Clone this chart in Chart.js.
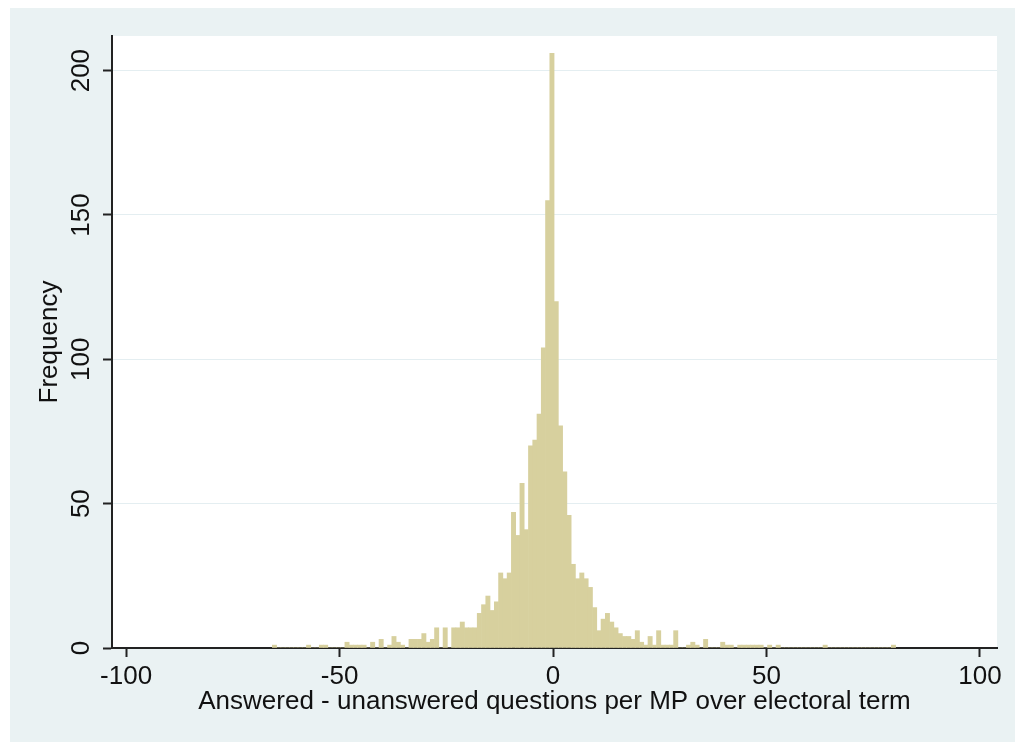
<!DOCTYPE html>
<html><head><meta charset="utf-8">
<script src="https://cdn.jsdelivr.net/npm/chart.js@4.4.1/dist/chart.umd.min.js"></script>
<style>html,body{margin:0;padding:0;background:#fff;} #wrap{width:1018px;height:742px;position:relative;}</style>
</head><body><div id="wrap"><canvas id="c"></canvas></div>
<script>
// Histogram bins: first bin centre and bin width (units of the x variable)
const binStart = -65.25;
const binWidth = 1;
// Frequencies per bin, from the bin centred at -65.25 up to the bin centred at 79.75
const frequencies = [
  1,0,0,0,0,0,0,0,1,0,
  0,1,1,0,0,0,0,2,1,1,
  1,1,0,2,0,3,0,1,4,2,
  1,0,3,3,3,5,2,3,7,0,
  7,0,7,7,9,7,7,7,12,15,
  18,13,16,26,24,26,47,39,57,41,
  70,72,81,104,155,206,120,77,61,46,
  29,24,26,24,21,14,6,10,12,9,
  7,5,4,4,3,6,2,1,4,1,
  6,1,1,1,6,0,0,1,2,1,
  0,3,0,0,0,2,1,1,0,1,
  1,1,1,1,1,0,1,0,1,0,
  0,0,0,0,0,0,0,0,0,1,
  0,0,0,0,0,0,0,0,0,0,
  0,0,0,0,0,1
];
const xTickValues = [-100, -50, 0, 50, 100];
const yTickValues = [0, 50, 100, 150, 200];
const xAxisTitle = 'Answered - unanswered questions per MP over electoral term';
const yAxisTitle = 'Frequency';

const FONT = '"Liberation Sans", Arial, sans-serif';
const TEXT = '#111111';

const bgPlugin = {
  id: 'bg',
  beforeDraw(chart) {
    const ctx = chart.ctx, a = chart.chartArea;
    ctx.save();
    ctx.fillStyle = '#ffffff';
    ctx.fillRect(0, 0, chart.width, chart.height);
    ctx.fillStyle = '#eaf2f3';
    ctx.fillRect(10, 8, chart.width - 13, chart.height - 8);
    ctx.fillStyle = '#ffffff';
    ctx.fillRect(a.left, a.top, a.right - a.left, a.bottom - a.top);
    ctx.restore();
  }
};

const yLabelPlugin = {
  id: 'ylabels',
  afterDraw(chart) {
    const ys = chart.scales.y, ctx = chart.ctx;
    ctx.save();
    ctx.font = '26px ' + FONT;
    ctx.fillStyle = TEXT;
    ctx.textAlign = 'center';
    ctx.textBaseline = 'alphabetic';
    yTickValues.forEach(v => {
      const py = ys.getPixelForValue(v);
      ctx.save();
      ctx.translate(ys.right - 23, py);
      ctx.rotate(-Math.PI / 2);
      ctx.fillText(String(v), 0, 0);
      ctx.restore();
    });
    ctx.restore();
  }
};

new Chart(document.getElementById('c'), {
  type: 'bar',
  data: {
    datasets: [{
      data: frequencies.map((f, i) => ({ x: binStart + i * binWidth, y: f })),
      backgroundColor: '#d7d09e',
      borderWidth: 0,
      barPercentage: 1,
      categoryPercentage: 1
    }]
  },
  options: {
    responsive: true,
    maintainAspectRatio: false,
    animation: false,
    layout: { padding: { left: 0, top: 36, right: 21, bottom: 0 } },
    plugins: { legend: { display: false }, tooltip: { enabled: false } },
    scales: {
      x: {
        type: 'linear', min: -103.3, max: 104, offset: false,
        afterBuildTicks: s => { s.ticks = xTickValues.map(v => ({ value: v })); },
        afterFit: s => { s.height = 94; },
        grid: { offset: false, drawOnChartArea: false, drawTicks: true, tickLength: 9, tickColor: '#222', tickWidth: 2 },
        border: { display: true, color: '#222', width: 2 },
        ticks: { font: { family: FONT, size: 26 }, color: TEXT, padding: 4, maxRotation: 0, autoSkip: false },
        title: { display: true, text: xAxisTitle, font: { family: FONT, size: 26 }, color: TEXT, padding: { top: 0, bottom: 25 } }
      },
      y: {
        type: 'linear', min: 0, max: 212,
        afterBuildTicks: s => { s.ticks = yTickValues.map(v => ({ value: v })); },
        afterFit: s => { s.width = 112; },
        grid: { offset: false, color: '#e4eef1', lineWidth: 1, drawTicks: true, tickLength: 9, tickColor: '#222', tickWidth: 2 },
        border: { display: true, color: '#222', width: 2 },
        ticks: { display: false },
        title: { display: true, text: yAxisTitle, font: { family: FONT, size: 26 }, color: TEXT, padding: { top: 34, bottom: 0 } }
      }
    }
  },
  plugins: [bgPlugin, yLabelPlugin]
});
</script>
</body></html>
